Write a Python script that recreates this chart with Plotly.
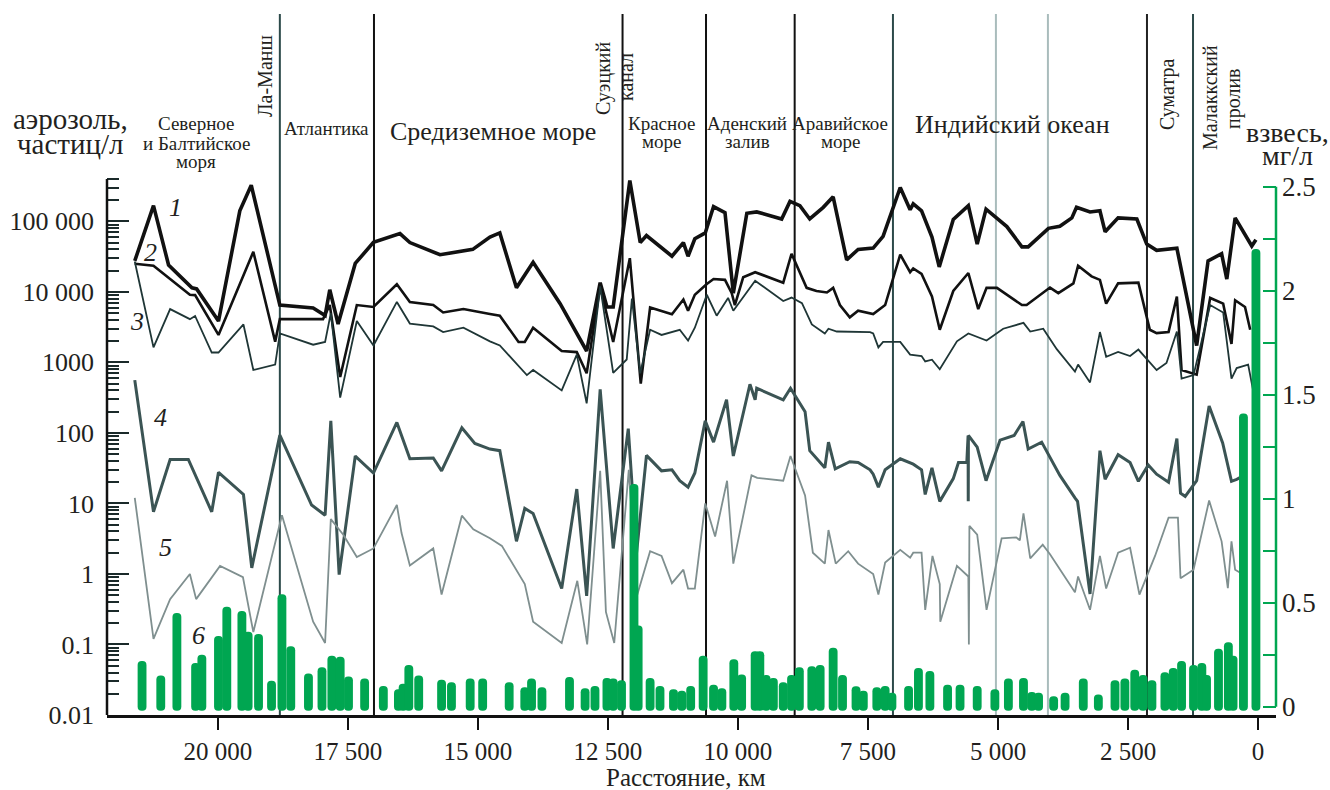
import math
import plotly.graph_objects as go

# ---------------- data (distance in km) ----------------
km1 = [21600,21240,20950,20500,20410,19990,19580,19360,18810,18170,
       17940,17850,17690,17360,17010,16500,16310,15730,15100,14770,
       14580,14260,13940,13420,12910,12650,12520,12400,12080,11880,
       11760,11270,11050,10960,10830,10630,10470,10250,10090,9830,
       9640,9160,9000,8810,8620,8360,8170,7910,7690,7400,
       7210,6880,6690,6630,6470,6270,6130,5860,5570,5400,
       5230,4830,4540,4420,4030,3810,3580,3490,3230,3040,
       2940,2690,2330,2140,1950,1560,1180,960,700,600,
       440,120,40]
s1 = [27500,167000,24000,11400,11000,3850,141000,325000,6500,5900,
      4600,10700,3500,25300,50300,67000,50000,33600,40000,60000,
      68500,11400,26200,6800,1450,13500,6100,6100,380000,50000,
      63000,32000,50000,32000,56600,68500,162000,133000,9600,130000,
      136000,108000,192000,167000,108000,158000,223000,28400,40000,41700,
      61200,302000,146000,177000,141000,59700,22600,106000,167000,47600,
      149000,84200,43500,43500,79600,85000,112000,158000,136000,141000,
      71000,112000,108000,47600,38800,41700,1730,27500,34700,15200,
      112000,44700,55000]

km2 = [21600,21240,20540,20440,19990,19320,18900,18810,17980,17850,
       17650,17330,17010,16560,16310,15860,15670,15280,14770,14580,
       14220,14100,13940,13390,13100,12910,12650,12400,12080,11870,
       11690,11270,11050,10960,10830,10600,10470,10250,10120,10060,
       9900,9670,9130,8970,8680,8490,8290,8170,8040,7850,
       7690,7400,7170,6880,6690,6630,6470,6270,6120,5860,
       5570,5380,5220,5020,4540,4450,4000,3840,3550,3460,
       3200,3040,2920,2690,2300,2080,1950,1720,1560,1470,
       1180,920,670,510,440,250,150]
s2 = [25000,23400,9100,9000,2450,37000,1970,4100,4100,6500,
      620,6500,6100,12800,7200,6500,5100,5700,4850,4600,
      1950,1950,3100,1450,1400,700,12000,1950,30000,500,
      6000,4800,7800,5400,9100,12900,15200,14800,9600,6500,
      16100,19000,13500,34700,11400,10300,9800,11400,6500,4350,
      5400,4850,6500,33800,19000,21500,18000,8600,2900,10300,
      18500,5700,11400,11400,6500,6500,11500,9600,13200,23400,
      16600,14800,6800,13200,13500,2900,2600,2690,8600,780,
      670,8200,6800,1830,7600,6100,2900]

km3 = [21600,21240,20920,20540,20440,20120,19990,19510,19320,18900,
       18810,18170,17940,17830,17650,17330,17010,16560,16310,15860,
       15670,15280,14770,14580,14060,13940,13390,13100,12910,12650,
       12400,12140,12040,11880,11690,11470,11120,10960,10830,10600,
       10410,10190,10090,9670,9130,8970,8770,8580,8330,8260,
       8100,7460,7400,7300,7210,6880,6690,6470,6400,6270,
       6120,5790,5570,5220,4900,4510,4380,4130,3870,3520,
       3460,3230,3040,2920,2690,2460,2300,1950,1760,1560,
       1470,1240,920,670,510,410,190,90]
s3 = [27000,1630,5700,4100,4550,1380,1380,3450,780,930,
      2570,1780,1950,5000,316,3870,1740,7200,3550,3240,
      2690,3100,1990,1740,660,780,400,1290,263,12000,
      710,1100,8000,700,2900,2450,2900,2040,3100,9100,
      4600,8200,5400,14400,7400,8300,6900,3460,2570,3000,
      2740,2690,2570,1630,1950,1950,1290,1230,1030,1090,
      800,1990,2570,2040,3000,3630,2740,3000,1540,740,
      930,520,2690,1200,1410,1230,1520,780,980,2740,
      590,660,6500,5100,590,830,930,390]

km4 = [21600,21240,20920,20570,20120,19990,19510,19350,18810,18200,
       17940,17830,17670,17360,17010,16560,16310,15860,15700,15310,
       15060,14770,14580,14260,14100,13940,13390,13100,12910,12650,
       12400,12110,11950,11760,11470,11270,11120,10960,10830,10630,
       10470,10220,10090,9770,9670,9640,9130,8990,8710,8620,
       8330,8260,8130,7850,7690,7460,7400,7300,7170,6880,
       6630,6470,6400,6270,6120,5860,5760,5600,5575,5572,
       5569,5400,5230,4960,4690,4520,4420,4160,4000,3810,
       3520,3470,3230,3040,2940,2690,2460,2300,2110,1950,
       1720,1560,1490,1400,1180,940,680,510,410,310]
s4 = [560,7.6,42,42,7.6,27.6,13.4,1.22,93,9.5,
      6.8,148,0.98,47,27,141,43,44,29,118,
      71,59,56,2.9,8.5,7.2,0.62,16,0.49,415,
      2.3,115,2.0,48,29,30,21,17,27,148,
      74,295,47,490,295,430,295,430,200,56,
      32,74,31,39,38,30,26,17,30,43,
      36,30,13.4,32,10.7,22.5,38,38,92,10.7,
      92,63,21,79,92,145,59,74,45,25,
      12,10.7,0.52,56,22,49,38,20.6,35,26,
      20,83,14,12.6,21,240,72,20.6,22,24]

km5 = [21600,21240,20920,20540,20420,19960,19520,19320,18770,18170,
       17940,17830,17590,17330,17010,16560,16470,16310,15860,15700,
       15310,15090,14770,14540,14100,13940,13390,13090,12900,12650,
       12540,12380,12100,11940,11690,11470,11270,11050,10960,10830,
       10630,10440,10210,10090,9740,9630,9130,8990,8710,8560,
       8330,8260,8120,7880,7690,7400,7300,7170,6880,6690,
       6630,6470,6400,6260,6120,6110,5790,5570,5560,5550,
       5400,5220,4930,4650,4580,4510,4380,4140,4000,3810,
       3520,3460,3230,3040,2920,2690,2460,2280,1980,1720,
       1540,1490,1240,940,700,580,510,440,350]
s5 = [12,0.12,0.44,1.0,0.44,1.3,0.9,0.15,6.8,0.21,
      0.105,6.0,3.6,1.74,2.3,9.5,3.8,1.32,2.3,0.51,
      6.7,4.3,3.2,2.5,0.72,0.21,0.105,0.8,0.1,29,
      0.29,0.105,30,0.5,2.1,1.8,0.74,1.15,0.62,0.62,
      10,3.4,21,1.4,25,23,21,47,13,2.0,
      1.4,4.2,1.4,2.1,1.4,1.0,0.51,1.45,2.2,1.7,
      2.0,2.0,0.31,1.8,0.72,0.21,1.3,0.92,0.1,4.8,
      3.6,0.31,3.2,3.3,3.0,7.2,1.66,2.6,1.9,1.15,
      0.55,0.92,0.31,1.8,0.62,2.0,2.35,0.51,1.8,6.3,
      6.3,0.87,1.15,11,2.9,0.63,2.9,1.15,1.05]

# suspended matter, mg/l (right axis)
km6 = [21460,21100,20790,20430,20310,19990,19830,19540,19420,19220,
       18970,18770,18600,18260,18000,17810,17650,17490,17180,16820,
       16530,16440,16330,16140,15700,15510,15150,14910,14400,14100,
       13970,13770,13240,12940,12750,12520,12400,12240,12000,11920,
       11690,11500,11240,11080,10910,10670,10470,10310,10080,9930,
       9670,9580,9460,9320,9130,8970,8820,8580,8420,8170,
       7990,7730,7590,7330,7170,7040,6720,6530,6310,5970,
       5730,5400,5060,4800,4510,4350,4220,3930,3710,3360,
       3070,2750,2560,2370,2210,2040,1790,1630,1470,1240,
       1080,990,760,570,480,280,40]
s6 = [0.22,0.15,0.45,0.21,0.25,0.34,0.48,0.46,0.36,0.35,
      0.125,0.54,0.29,0.16,0.19,0.245,0.24,0.145,0.135,0.10,
      0.084,0.11,0.20,0.15,0.13,0.118,0.135,0.135,0.118,0.093,
      0.135,0.093,0.143,0.088,0.10,0.138,0.135,0.127,1.07,0.39,
      0.138,0.10,0.084,0.076,0.10,0.245,0.105,0.088,0.228,0.155,
      0.267,0.267,0.152,0.138,0.118,0.152,0.19,0.194,0.20,0.283,
      0.152,0.098,0.076,0.093,0.10,0.067,0.10,0.186,0.172,0.105,
      0.105,0.10,0.084,0.135,0.138,0.07,0.067,0.05,0.067,0.135,
      0.059,0.127,0.135,0.177,0.152,0.127,0.165,0.186,0.22,0.20,
      0.21,0.152,0.278,0.31,0.245,1.41,2.20]

# region boundaries (km) and their colours
boundaries = [18810, 17000, 12220, 10615, 8910, 7020, 5040, 4040, 2135, 1250]
boundary_colors = ['#2c4a4a', '#111111', '#111111', '#111111', '#111111',
                   '#2c4a4a', '#a9bcbc', '#a9bcbc', '#222222', '#2c4a4a']

x_tickvals = [20000, 17500, 15000, 12500, 10000, 7500, 5000, 2500, 0]
x_ticktext = ['20 000', '17 500', '15 000', '12 500', '10 000', '7 500', '5 000', '2 500', '0']
y_tickvals = [0.01, 0.1, 1, 10, 100, 1000, 10000, 100000]
y_ticktext = ['0.01', '0.1', '1', '10', '100', '1000', '10 000', '100 000']
y2_tickvals = [0, 0.25, 0.5, 0.75, 1, 1.25, 1.5, 1.75, 2, 2.25, 2.5]
y2_ticktext = ['0', '', '0.5', '', '1', '', '1.5', '', '2', '', '2.5']

# ---------------- layout geometry ----------------
W, H = 1330, 790
ML, MR, MT, MB = 107, 54, 14, 75
X_RANGE = [22134, -346]
Y_RANGE = [-2, 7.94]          # log10
Y2_RANGE = [-0.04, 3.33]
Y_TOP = 4e5
BAR_BASE = -0.02              # bars start just below the zero line, as in the original
FONT = 'Liberation Serif'
TXT = '#231f20'
GREEN = '#00A651'

pw, ph = W - ML - MR, H - MT - MB


def P(px, py):
    return (px - ML) / pw, (H - MB - py) / ph


fig = go.Figure()

series = [
    (km1, s1, '#111111', 3.6),
    (km2, s2, '#111111', 2.6),
    (km3, s3, '#1f3636', 1.8),
    (km4, s4, '#3b5454', 3.0),
    (km5, s5, '#7f8f8f', 1.8),
]
for xs, ys, col, wd in series:
    fig.add_trace(go.Scatter(x=xs, y=ys, mode='lines', yaxis='y',
                             line=dict(color=col, width=wd),
                             showlegend=False, hoverinfo='skip'))

fig.add_trace(go.Bar(x=km6, y=[v - BAR_BASE for v in s6], base=BAR_BASE,
                     yaxis='y2', width=170,
                     marker=dict(color=GREEN, line=dict(width=0)),
                     showlegend=False, hoverinfo='skip'))

shapes = []
for b, c in zip(boundaries, boundary_colors):
    shapes.append(dict(type='line', xref='x', yref='paper', x0=b, x1=b, y0=0, y1=1,
                       line=dict(color=c, width=2), layer='below'))
# left axis spine (0.01 .. 4e5)
shapes.append(dict(type='line', xref='paper', yref='paper', x0=0, x1=0, y0=0,
                   y1=(math.log10(Y_TOP) - Y_RANGE[0]) / (Y_RANGE[1] - Y_RANGE[0]),
                   line=dict(color='#111111', width=2.5)))
# right axis spine (0 .. 2.5)
shapes.append(dict(type='line', xref='paper', yref='y2', x0=1, x1=1, y0=0, y1=2.5,
                   line=dict(color=GREEN, width=2.5)))

ann = []


def add_text(text, px, py, size, angle=0, xanchor='center'):
    xp, yp = P(px, py)
    ann.append(dict(text=text, x=xp, y=yp, xref='paper', yref='paper', showarrow=False,
                    textangle=angle, xanchor=xanchor, yanchor='middle',
                    font=dict(family=FONT, size=size, color=TXT)))


# axis titles
add_text('аэрозоль,', 70, 119, 29)
add_text('частиц/л', 70, 144, 29)
add_text('взвесь,', 1287, 133, 28)
add_text('мг/л', 1287, 156, 28)
add_text('Расстояние, км', 686, 778, 25)

# region names
add_text('Северное', 196, 123, 19)
add_text('и Балтийское', 196, 143, 19)
add_text('моря', 196, 161, 19)
add_text('Ла-Манш', 265, 76, 20, angle=-90)
add_text('Атлантика', 326, 128, 19)
add_text('Средиземное море', 493, 131, 26)
add_text('Суэцкий', 604, 78, 20, angle=-90)
add_text('канал', 626, 77, 20, angle=-90)
add_text('Красное', 661, 123, 19)
add_text('море', 661, 141, 19)
add_text('Аденский', 747, 123, 19)
add_text('залив', 747, 141, 19)
add_text('Аравийское', 840, 123, 19)
add_text('море', 840, 141, 19)
add_text('Индийский океан', 1012, 124, 26)
add_text('Суматра', 1167, 95, 20, angle=-90)
add_text('Малаккский', 1210, 98, 20, angle=-90)
add_text('пролив', 1233, 99, 20, angle=-90)

# series numbers
for lab, px, py in [('1', 175, 207), ('2', 150, 253), ('3', 137, 322),
                    ('4', 160, 417), ('5', 165, 547), ('6', 198, 635)]:
    add_text('<i>%s</i>' % lab, px, py, 26)

minor_vals = [m * 10 ** e for e in range(-2, 5) for m in range(2, 10)] + [2e5, 3e5, 4e5]

fig.update_layout(
    template='none',
    width=W, height=H,
    margin=dict(l=ML, r=MR, t=MT, b=MB, autoexpand=False),
    paper_bgcolor='white', plot_bgcolor='white',
    barmode='overlay', barcornerradius=4,
    showlegend=False,
    font=dict(family=FONT, size=25, color=TXT),
    xaxis=dict(range=X_RANGE, showgrid=False, zeroline=False, automargin=False,
               showline=True, linecolor='#111111', linewidth=3,
               tickmode='array', tickvals=x_tickvals, ticktext=x_ticktext,
               ticks='outside', ticklen=12, tickwidth=2, tickcolor='#111111',
               tickfont=dict(family=FONT, size=25, color=TXT)),
    yaxis=dict(type='log', range=Y_RANGE, showgrid=False, zeroline=False,
               showline=False, automargin=False,
               tickmode='array', tickvals=y_tickvals, ticktext=y_ticktext,
               ticks='inside', ticklen=22, tickwidth=2.2, tickcolor='#1a2a2a',
               ticklabelstandoff=12,
               minor=dict(tickmode='array', tickvals=minor_vals, ticks='inside',
                          ticklen=12, tickwidth=2, tickcolor='#1a2a2a', showgrid=False),
               tickfont=dict(family=FONT, size=26, color=TXT)),
    yaxis2=dict(overlaying='y', side='right', range=Y2_RANGE, showgrid=False,
                zeroline=False, showline=False, automargin=False,
                tickmode='array', tickvals=y2_tickvals, ticktext=y2_ticktext,
                ticks='inside', ticklen=13, tickwidth=2.2, tickcolor=GREEN,
                ticklabelstandoff=5,
                tickfont=dict(family=FONT, size=27, color=TXT)),
    shapes=shapes,
    annotations=ann,
)

fig.write_html('out.html', config={'displayModeBar': False},
               post_script="document.body.style.margin='0';document.body.style.overflow='hidden';")
